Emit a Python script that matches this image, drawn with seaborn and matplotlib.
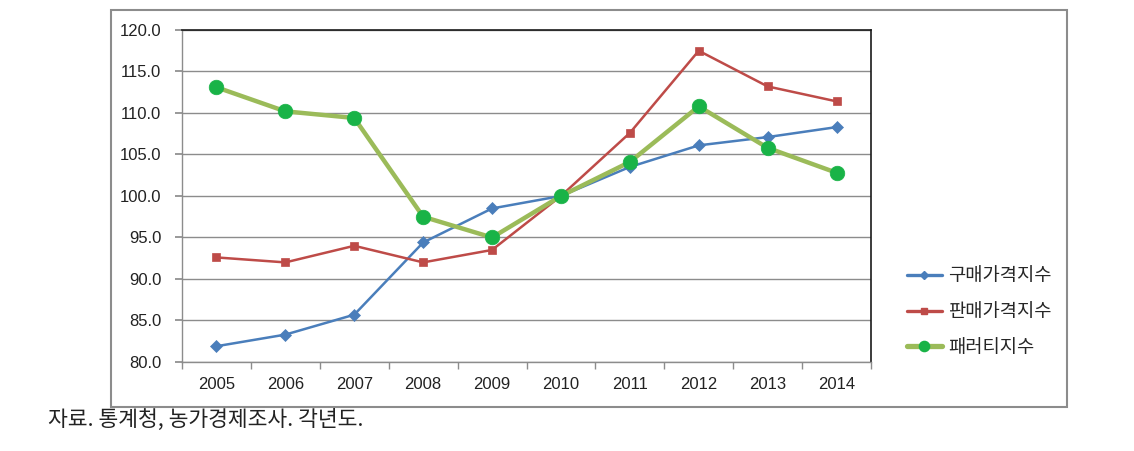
import numpy as np
import pandas as pd
import matplotlib
matplotlib.use("Agg")
import matplotlib.pyplot as plt
from matplotlib.patches import Rectangle
from matplotlib.lines import Line2D
import seaborn as sns

years = ["2005", "2006", "2007", "2008", "2009", "2010", "2011", "2012", "2013", "2014"]
purchase = [81.9, 83.3, 85.7, 94.4, 98.5, 100.0, 103.5, 106.1, 107.1, 108.3]
sales = [92.6, 92.0, 94.0, 92.0, 93.5, 100.0, 107.6, 117.5, 113.2, 111.4]
parity = [113.1, 110.2, 109.4, 97.5, 95.0, 100.0, 104.1, 110.8, 105.8, 102.8]
series_names = ["구매가격지수", "판매가격지수", "패러티지수"]
yticks = [80.0, 85.0, 90.0, 95.0, 100.0, 105.0, 110.0, 115.0, 120.0]
source_note = "자료. 통계청, 농가경제조사. 각년도."

sns.set_theme(style="white")
plt.rcParams['font.family'] = ['Noto Sans CJK KR', 'DejaVu Sans']

fig = plt.figure(figsize=(11.34, 4.51), dpi=100)
# outer chart frame
fig.patches.append(Rectangle((111/1134, 1-407/451), 956/1134, 397/451,
                             transform=fig.transFigure, fill=False,
                             edgecolor="#8c8c8c", linewidth=1.5, zorder=0))

ax = fig.add_axes([182/1134, 1-362/451, 689/1134, 332/451])

x = np.arange(len(years))
df = pd.DataFrame({"x": x, "p": purchase, "s": sales, "q": parity})

styles = [
    dict(y="p", color="#4A7EBB", lw=1.8, marker="D", ms=6.5, mfc="#4A7EBB", mec="#4A7EBB"),
    dict(y="s", color="#BE4B48", lw=1.8, marker="s", ms=6.0, mfc="#BE4B48", mec="#BE4B48"),
    dict(y="q", color="#9BBB59", lw=3.2, marker="o", ms=10.5, mfc="#19B347", mec="#19B347"),
]
handles = []
for st, name in zip(styles, series_names):
    sns.lineplot(data=df, x="x", y=st["y"], ax=ax, color=st["color"], linewidth=st["lw"],
                 marker=st["marker"], markersize=st["ms"], markerfacecolor=st["mfc"],
                 markeredgecolor=st["mec"], markeredgewidth=0.5, zorder=3)
    handles.append(Line2D([], [], color=st["color"], linewidth=st["lw"] + 0.6, marker=st["marker"],
                          markersize=st["ms"] * 0.7, markerfacecolor=st["mfc"],
                          markeredgecolor=st["mec"], label=name))

ax.set_xlim(-0.5, len(years) - 0.5)
ax.set_ylim(80, 120)
ax.set_yticks(yticks)
ax.set_yticklabels([f"{v:.1f}" for v in yticks], fontsize=12, family=["Liberation Sans"])
ax.set_xticks(x)
ax.set_xticklabels(years, fontsize=12, family=["Liberation Sans"])
ax.set_xticks(np.arange(-0.5, len(years), 1.0), minor=True)
ax.tick_params(axis="x", which="major", length=0, pad=11, colors="#222222")
ax.tick_params(axis="x", which="minor", length=5, direction="out", color="#8c8c8c", bottom=True)
ax.tick_params(axis="y", which="major", length=5, direction="out", color="#8c8c8c", left=True,
               pad=10, colors="#222222")
ax.tick_params(axis="y", which="major", color="#8c8c8c")
ax.yaxis.grid(True, color="#8c8c8c", linewidth=1.0)
ax.xaxis.grid(False)
ax.set_xlabel("")
ax.set_ylabel("")
for side in ["left", "bottom"]:
    ax.spines[side].set_color("#8c8c8c")
    ax.spines[side].set_linewidth(1.0)
for side in ["top", "right"]:
    ax.spines[side].set_color("#1a1a1a")
    ax.spines[side].set_linewidth(1.2)
for lab in ax.get_yticklabels():
    lab.set_color("#222222")

fig.legend(handles=handles, loc="upper left", bbox_to_anchor=(899/1134, 1-258/451),
           frameon=False, fontsize=13.5, handlelength=1.9, handletextpad=0.3,
           labelspacing=0.78, borderaxespad=0)

fig.text(48/1134, 1-420/451, source_note, fontsize=15.5, va="center", ha="left", color="#222222")

fig.savefig("out.png", dpi=100)
